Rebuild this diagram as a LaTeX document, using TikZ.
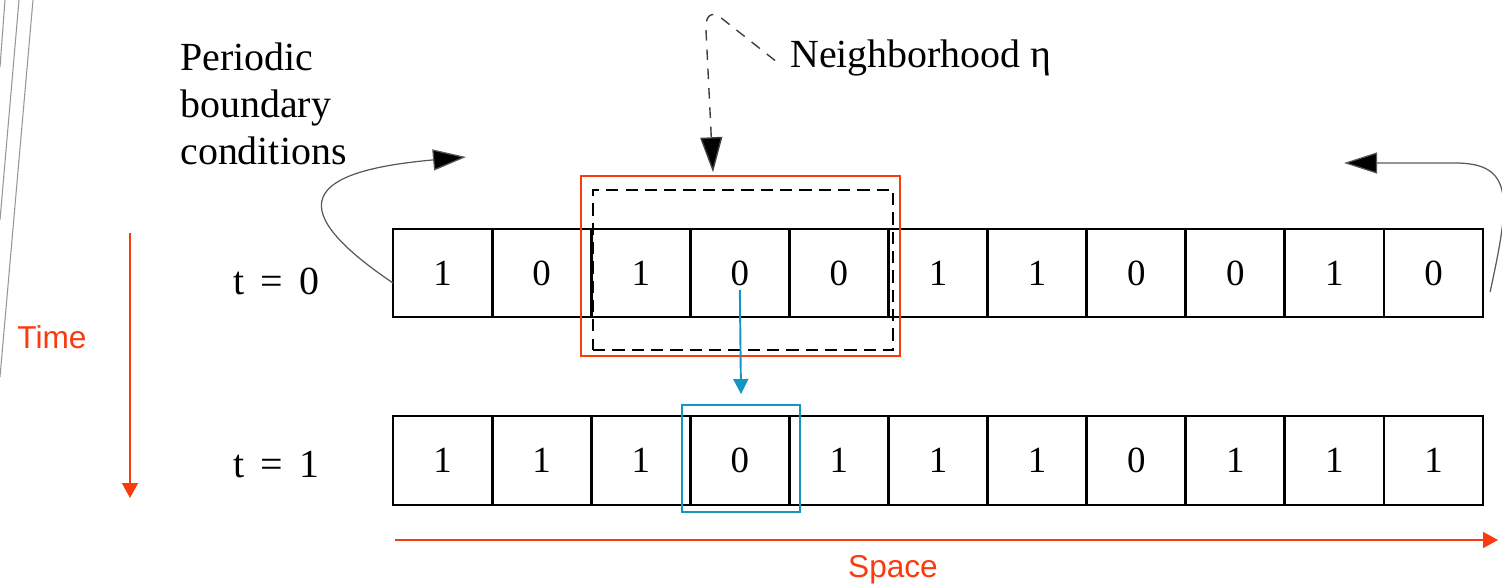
\documentclass[tikz,border=0pt]{standalone}
\usepackage{fontspec}
\setmainfont{Liberation Serif}
\setsansfont{Liberation Sans}
\usetikzlibrary{arrows.meta}
\definecolor{redc}{RGB}{250,58,15}
\definecolor{bluec}{RGB}{20,150,190}
\definecolor{edgegray}{RGB}{150,150,150}
\tikzset{
  cell/.style={draw, line width=1.1pt, minimum width=1.982cm, minimum height=1.77cm, inner sep=0pt, outer sep=0pt, font=\fontsize{21}{25}\selectfont},
  divider/.style={line width=1.7pt},
  lbl/.style={inner sep=0pt, font=\fontsize{22.7}{27}\selectfont},
  axislbl/.style={inner sep=0pt, text=redc, font=\sffamily\fontsize{18}{21}\selectfont},
  redbox/.style={draw=redc, line width=1.1pt, minimum width=6.38cm, minimum height=3.6cm, inner sep=0pt},
  dashbox/.style={draw, dashed, dash pattern=on 7pt off 4pt, line width=0.9pt, minimum width=6cm, minimum height=3.2cm, inner sep=0pt},
  bluebox/.style={draw=bluec, line width=1.1pt, minimum width=2.36cm, minimum height=2.14cm, inner sep=0pt},
  bigarrow/.style={draw=black!65, line width=0.7pt, -{Triangle[length=0.66cm, width=0.42cm, fill=black]}},
  nbarrow/.style={draw=black!75, line width=0.8pt, dash pattern=on 6pt off 5pt, -{Triangle[length=0.7cm, width=0.44cm, fill=black]}},
  bluearrow/.style={draw=bluec, line width=1.1pt, -{Triangle[length=0.3cm, width=0.3cm]}},
  redarrow/.style={draw=redc, line width=1.1pt, -{Triangle[length=0.3cm, width=0.32cm]}},
}
\begin{document}
\begin{tikzpicture}[x=0.02cm, y=-0.02cm]
\useasboundingbox (0,0) rectangle (1502,588);
% page edge lines
\draw[edgegray, line width=0.6pt] (5,0) -- (0,67);
\draw[edgegray, line width=0.6pt] (19,0) -- (0,220);
\draw[edgegray, line width=0.6pt] (33,0) -- (0,377);
% cells
\foreach \v [count=\i from 0] in {1,0,1,0,0,1,1,0,0,1,0}
  \node[cell] (a\i) at ({393+99.1*(\i+0.5)},273) {\v};
\foreach \v [count=\i from 0] in {1,1,1,0,1,1,1,0,1,1,1}
  \node[cell] (b\i) at ({393+99.1*(\i+0.5)},460.5) {\v};
\foreach \i in {0,...,9} {
  \draw[divider] (a\i.north east) -- (a\i.south east);
  \draw[divider] (b\i.north east) -- (b\i.south east);
}
% time labels
\node[lbl] (t0) at (276.5,281) {t\hspace{0.4em}=\hspace{0.4em}0};
\node[lbl] (t1) at (276.5,465) {t\hspace{0.4em}=\hspace{0.4em}1};
% neighbourhood boxes
\node[redbox] (rb) at (740.5,266) {};
\node[dashbox] (nb) at (743,270) {};
\node[bluebox] (bb) at (741,458.5) {};
% labels
\node[lbl, anchor=west] (nlab) at (790,58) {Neighborhood η};
\node[lbl, anchor=north west, align=left] (pb) at (180,42) {Periodic\\boundary\\conditions};
% arrows
\draw[nbarrow] ([xshift=-0.3cm,yshift=-0.05cm]nlab.west) -- (720,17) .. controls (711,11) and (705,16) .. (706,30) -- ([xshift=-0.6cm,yshift=0.34cm]nb.north);
\coordinate (pl) at (466,157);
\coordinate (pr) at (1344,163);
\draw[bigarrow] ([yshift=-0.2cm]a0.west) .. controls (270,200) and (320,170) .. (pl);
\draw[bigarrow] ([xshift=0.14cm,yshift=-0.38cm]a10.east) .. controls (1510,200) and (1515,163) .. (1455,163) -- (pr);
\draw[bluearrow] ([yshift=-0.34cm]a3.center) -- ([yshift=0.2cm]bb.north);
% axes
\coordinate (ta) at (130,233);
\coordinate (tb) at (130,498);
\draw[redarrow] (ta) -- (tb);
\node[axislbl] (timel) at (52,337) {Time};
\coordinate (sa) at (395,540);
\coordinate (sb) at (1498,540);
\draw[redarrow] (sa) -- (sb);
\node[axislbl] (spacel) at (893,570) {Space};
\end{tikzpicture}
\end{document}
